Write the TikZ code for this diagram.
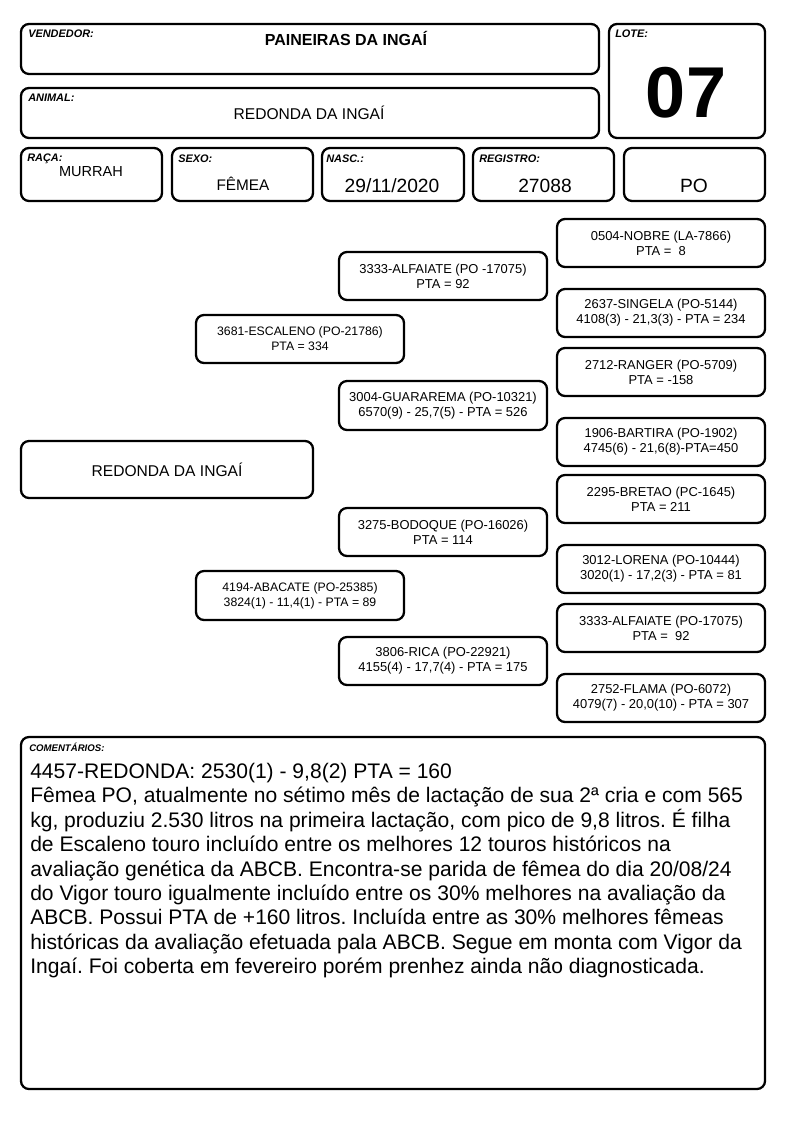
\documentclass[tikz,border=0pt]{standalone}
\usepackage{fontspec}
\setmainfont{Liberation Sans}
\begin{document}
\frenchspacing
\begin{tikzpicture}[x=0.75pt,y=-0.75pt,
  box/.style={draw=black, line width=1.7pt, rounded corners=6pt, rectangle, inner sep=0pt, fill=white},
  lbl/.style={anchor=north west, inner sep=0pt, font=\fontsize{8.2}{9}\selectfont\bfseries\itshape},
  val/.style={inner sep=0pt, font=\fontsize{11.5}{13}\selectfont}]
\newcommand\bx[6]{\node[box, minimum width={(#4-#2)*0.75pt}, minimum height={(#5-#3)*0.75pt}] (#1) at ({(#2+#4)/2},{(#3+#5)/2}) {#6};}
\newcommand\pt[2]{\parbox{156pt}{\centering\fontsize{9.7}{11.3}\selectfont #1\\#2}}
\newcommand\ps[2]{\parbox{156pt}{\centering\fontsize{9.2}{11.3}\selectfont #1\\#2}}
\useasboundingbox (0,0) rectangle (794,1123);
% header boxes
\bx{vend}{21}{24}{599}{74}{}
\bx{lote}{609}{24}{765}{138}{}
\bx{anim}{21}{88}{599}{138}{}
\bx{raca}{21}{148}{162}{201}{}
\bx{sexo}{172}{148}{313}{201}{}
\bx{nasc}{322}{148}{464}{201}{}
\bx{reg}{473}{148}{614}{201}{}
\bx{cat}{624}{148}{765}{201}{}
% labels
\node[lbl] (lvend) at (28,30) {VENDEDOR:};
\node[val, font=\fontsize{12}{13}\selectfont\bfseries] (tvend) at (346,38) {PAINEIRAS DA INGAÍ};
\node[lbl] (llote) at (615,30) {LOTE:};
\node[inner sep=0pt, font=\fontsize{54}{60}\selectfont\bfseries] (tlote) at (686,93) {07};
\node[lbl] (lanim) at (28,94) {ANIMAL:};
\node[val, font=\fontsize{11.7}{13}\selectfont] (tanim) at (309,113) {REDONDA DA INGAÍ};
\node[lbl] (lraca) at (27,154) {RAÇA:};
\node[val, font=\fontsize{10.9}{13}\selectfont] (traca) at (91,172) {MURRAH};
\node[lbl] (lsexo) at (178,155) {SEXO:};
\node[val] (tsexo) at (243,184) {FÊMEA};
\node[lbl] (lnasc) at (326,155) {NASC.:};
\node[val, font=\fontsize{14.4}{16}\selectfont] (tnasc) at (392,186) {29/11/2020};
\node[lbl] (lreg) at (479,155) {REGISTRO:};
\node[val, font=\fontsize{14.4}{16}\selectfont] (treg) at (545,186) {27088};
\node[val, font=\fontsize{14.4}{16}\selectfont] (tcat) at (694,186) {PO};
% pedigree
\bx{animal}{21}{441}{313}{498}{\fontsize{11.7}{13}\selectfont REDONDA DA INGAÍ}
\bx{pai}{196}{315}{404}{363}{\ps{3681-ESCALENO (PO-21786)}{PTA = 334}}
\bx{mae}{196}{571}{404}{620}{\ps{4194-ABACATE (PO-25385)}{3824(1) - 11,4(1) - PTA = 89}}
\bx{avpp}{339}{252}{547}{300}{\pt{3333-ALFAIATE (PO -17075)}{PTA = 92}}
\bx{avpm}{339}{381}{547}{430}{\pt{3004-GUARAREMA (PO-10321)}{6570(9) - 25,7(5) - PTA = 526}}
\bx{avmp}{339}{508}{547}{556}{\pt{3275-BODOQUE (PO-16026)}{PTA = 114}}
\bx{avmm}{339}{637}{547}{685}{\pt{3806-RICA (PO-22921)}{4155(4) - 17,7(4) - PTA = 175}}
\bx{b1}{557}{219}{765}{267}{\pt{0504-NOBRE (LA-7866)}{PTA =\ \ 8}}
\bx{b2}{557}{289}{765}{337}{\pt{2637-SINGELA (PO-5144)}{4108(3) - 21,3(3) - PTA = 234}}
\bx{b3}{557}{348}{765}{396}{\pt{2712-RANGER (PO-5709)}{PTA = -158}}
\bx{b4}{557}{418}{765}{466}{\pt{1906-BARTIRA (PO-1902)}{4745(6) - 21,6(8)-PTA=450}}
\bx{b5}{557}{475}{765}{523}{\pt{2295-BRETAO (PC-1645)}{PTA = 211}}
\bx{b6}{557}{545}{765}{593}{\pt{3012-LORENA (PO-10444)}{3020(1) - 17,2(3) - PTA = 81}}
\bx{b7}{557}{604}{765}{652}{\pt{3333-ALFAIATE (PO-17075)}{PTA =\ \ 92}}
\bx{b8}{557}{674}{765}{722}{\pt{2752-FLAMA (PO-6072)}{4079(7) - 20,0(10) - PTA = 307}}
% comments
\bx{com}{21}{737}{765}{1089}{}
\node[lbl, font=\fontsize{7.2}{8}\selectfont\bfseries\itshape] (lcom) at (29,743) {COMENTÁRIOS:};
\node[anchor=north west, inner sep=0pt, align=left, font=\fontsize{15.8}{18.3}\selectfont] (tcom) at (30,763) {4457-REDONDA: 2530(1) - 9,8(2) PTA = 160\\
Fêmea PO, atualmente no sétimo mês de lactação de sua 2ª cria e com 565\\
kg, produziu 2.530 litros na primeira lactação, com pico de 9,8 litros. É filha\\
de Escaleno touro incluído entre os melhores 12 touros históricos na\\
avaliação genética da ABCB. Encontra-se parida de fêmea do dia 20/08/24\\
do Vigor touro igualmente incluído entre os 30\% melhores na avaliação da\\
ABCB. Possui PTA de +160 litros. Incluída entre as 30\% melhores fêmeas\\
históricas da avaliação efetuada pala ABCB. Segue em monta com Vigor da\\
Ingaí. Foi coberta em fevereiro porém prenhez ainda não diagnosticada.};
\end{tikzpicture}
\end{document}
